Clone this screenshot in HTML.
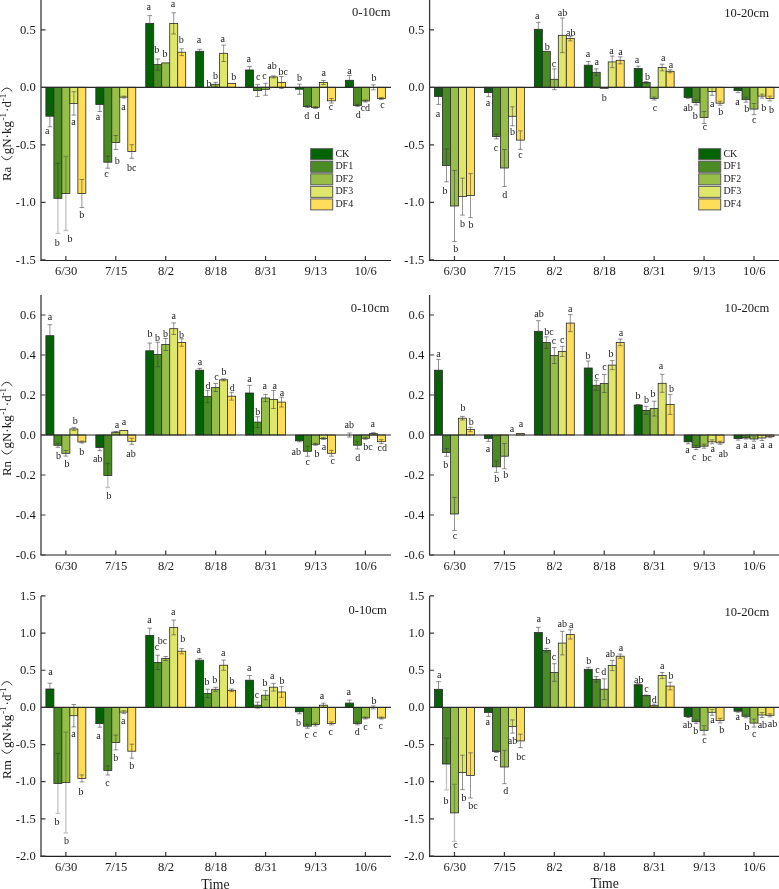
<!DOCTYPE html><html><head><meta charset="utf-8"><style>html,body{margin:0;padding:0;background:#fff;overflow:hidden;}svg{display:block;will-change:transform;}</style></head><body>
<svg width="779" height="889" viewBox="0 0 779 889" font-family='"Liberation Serif", serif'>
<rect width="779" height="889" fill="#fff"/>
<g stroke="#2a2a2a" stroke-width="0.8">
<rect x="45.9" y="87.3" width="7.99" height="28.9" fill="#026302"/>
<rect x="53.89" y="87.3" width="7.99" height="111" fill="#4a8b24"/>
<rect x="61.88" y="87.3" width="7.99" height="106.2" fill="#97bf48"/>
<rect x="69.88" y="87.3" width="7.99" height="16.1" fill="#dfe76b"/>
<rect x="77.86" y="87.3" width="7.99" height="106.2" fill="#fede58"/>
<rect x="95.82" y="87.3" width="7.99" height="17.1" fill="#026302"/>
<rect x="103.81" y="87.3" width="7.99" height="74.9" fill="#4a8b24"/>
<rect x="111.8" y="87.3" width="7.99" height="55.2" fill="#97bf48"/>
<rect x="119.79" y="87.3" width="7.99" height="9.8" fill="#dfe76b"/>
<rect x="127.78" y="87.3" width="7.99" height="64.2" fill="#fede58"/>
<rect x="145.75" y="23.5" width="7.99" height="63.8" fill="#026302"/>
<rect x="153.74" y="64.6" width="7.99" height="22.7" fill="#4a8b24"/>
<rect x="161.72" y="62.9" width="7.99" height="24.4" fill="#97bf48"/>
<rect x="169.72" y="23.4" width="7.99" height="63.9" fill="#dfe76b"/>
<rect x="177.71" y="52.2" width="7.99" height="35.1" fill="#fede58"/>
<rect x="195.66" y="51.3" width="7.99" height="36" fill="#026302"/>
<rect x="211.64" y="84.3" width="7.99" height="3" fill="#97bf48"/>
<rect x="219.63" y="53.3" width="7.99" height="34" fill="#dfe76b"/>
<rect x="227.62" y="83.4" width="7.99" height="3.9" fill="#fede58"/>
<rect x="245.59" y="70" width="7.99" height="17.3" fill="#026302"/>
<rect x="253.58" y="87.3" width="7.99" height="3.3" fill="#4a8b24"/>
<rect x="261.56" y="87.3" width="7.99" height="2" fill="#97bf48"/>
<rect x="269.56" y="76.9" width="7.99" height="10.4" fill="#dfe76b"/>
<rect x="277.55" y="82.5" width="7.99" height="4.8" fill="#fede58"/>
<rect x="295.5" y="87.3" width="7.99" height="1.9" fill="#026302"/>
<rect x="303.5" y="87.3" width="7.99" height="19.2" fill="#4a8b24"/>
<rect x="311.49" y="87.3" width="7.99" height="20.2" fill="#97bf48"/>
<rect x="319.48" y="82.5" width="7.99" height="4.8" fill="#dfe76b"/>
<rect x="327.46" y="87.3" width="7.99" height="13.5" fill="#fede58"/>
<rect x="345.42" y="80.3" width="7.99" height="7" fill="#026302"/>
<rect x="353.41" y="87.3" width="7.99" height="18.1" fill="#4a8b24"/>
<rect x="361.4" y="87.3" width="7.99" height="13.7" fill="#97bf48"/>
<rect x="377.38" y="87.3" width="7.99" height="11.2" fill="#fede58"/>
</g>
<path d="M49.9 105.6V126.8M47.6 105.6H52.2M47.6 126.8H52.2" stroke="rgba(60,60,60,0.62)" stroke-width="0.9" fill="none"/>
<path d="M57.89 163.3V233.3M55.59 163.3H60.19M55.59 233.3H60.19" stroke="rgba(0,0,0,0.24)" stroke-width="1.3" fill="none"/>
<path d="M65.88 156.5V230.5M63.58 156.5H68.18M63.58 230.5H68.18" stroke="rgba(0,0,0,0.24)" stroke-width="1.3" fill="none"/>
<path d="M73.87 91.7V115.1M71.57 91.7H76.17M71.57 115.1H76.17" stroke="rgba(60,60,60,0.62)" stroke-width="0.9" fill="none"/>
<path d="M81.86 179.5V207.5M79.56 179.5H84.16M79.56 207.5H84.16" stroke="rgba(60,60,60,0.62)" stroke-width="0.9" fill="none"/>
<path d="M99.82 97.3V111.5M97.52 97.3H102.12M97.52 111.5H102.12" stroke="rgba(60,60,60,0.62)" stroke-width="0.9" fill="none"/>
<path d="M107.81 156.2V168.2M105.51 156.2H110.11M105.51 168.2H110.11" stroke="rgba(60,60,60,0.62)" stroke-width="0.9" fill="none"/>
<path d="M115.8 135.5V149.5M113.5 135.5H118.1M113.5 149.5H118.1" stroke="rgba(60,60,60,0.62)" stroke-width="0.9" fill="none"/>
<path d="M123.79 96.1V98.1M121.49 96.1H126.09M121.49 98.1H126.09" stroke="rgba(60,60,60,0.62)" stroke-width="0.9" fill="none"/>
<path d="M131.78 144.7V158.3M129.48 144.7H134.08M129.48 158.3H134.08" stroke="rgba(60,60,60,0.62)" stroke-width="0.9" fill="none"/>
<path d="M149.74 15.6V31.4M147.44 15.6H152.04M147.44 31.4H152.04" stroke="rgba(60,60,60,0.62)" stroke-width="0.9" fill="none"/>
<path d="M157.73 59V70.2M155.43 59H160.03M155.43 70.2H160.03" stroke="rgba(60,60,60,0.62)" stroke-width="0.9" fill="none"/>
<path d="M173.71 12.8V34M171.41 12.8H176.01M171.41 34H176.01" stroke="rgba(60,60,60,0.62)" stroke-width="0.9" fill="none"/>
<path d="M181.7 48.8V55.6M179.4 48.8H184M179.4 55.6H184" stroke="rgba(60,60,60,0.62)" stroke-width="0.9" fill="none"/>
<path d="M199.66 49.3V53.3M197.36 49.3H201.96M197.36 53.3H201.96" stroke="rgba(60,60,60,0.62)" stroke-width="0.9" fill="none"/>
<path d="M215.64 82.3V86.3M213.34 82.3H217.94M213.34 86.3H217.94" stroke="rgba(60,60,60,0.62)" stroke-width="0.9" fill="none"/>
<path d="M223.63 45.1V61.5M221.33 45.1H225.93M221.33 61.5H225.93" stroke="rgba(60,60,60,0.62)" stroke-width="0.9" fill="none"/>
<path d="M249.58 66.6V73.4M247.28 66.6H251.88M247.28 73.4H251.88" stroke="rgba(60,60,60,0.62)" stroke-width="0.9" fill="none"/>
<path d="M257.57 84.6V96.6M255.27 84.6H259.87M255.27 96.6H259.87" stroke="rgba(60,60,60,0.62)" stroke-width="0.9" fill="none"/>
<path d="M265.56 83.3V95.3M263.26 83.3H267.86M263.26 95.3H267.86" stroke="rgba(60,60,60,0.62)" stroke-width="0.9" fill="none"/>
<path d="M273.55 75.9V77.9M271.25 75.9H275.85M271.25 77.9H275.85" stroke="rgba(60,60,60,0.62)" stroke-width="0.9" fill="none"/>
<path d="M281.54 76.5V88.5M279.24 76.5H283.84M279.24 88.5H283.84" stroke="rgba(60,60,60,0.62)" stroke-width="0.9" fill="none"/>
<path d="M299.5 84.2V94.2M297.2 84.2H301.8M297.2 94.2H301.8" stroke="rgba(60,60,60,0.62)" stroke-width="0.9" fill="none"/>
<path d="M307.49 105.5V107.5M305.19 105.5H309.79M305.19 107.5H309.79" stroke="rgba(60,60,60,0.62)" stroke-width="0.9" fill="none"/>
<path d="M315.48 106.5V108.5M313.18 106.5H317.78M313.18 108.5H317.78" stroke="rgba(60,60,60,0.62)" stroke-width="0.9" fill="none"/>
<path d="M323.47 80.5V84.5M321.17 80.5H325.77M321.17 84.5H325.77" stroke="rgba(60,60,60,0.62)" stroke-width="0.9" fill="none"/>
<path d="M331.46 98.5V103.1M329.16 98.5H333.76M329.16 103.1H333.76" stroke="rgba(60,60,60,0.62)" stroke-width="0.9" fill="none"/>
<path d="M349.42 75.5V85.1M347.12 75.5H351.72M347.12 85.1H351.72" stroke="rgba(60,60,60,0.62)" stroke-width="0.9" fill="none"/>
<path d="M357.41 104.4V106.4M355.11 104.4H359.71M355.11 106.4H359.71" stroke="rgba(60,60,60,0.62)" stroke-width="0.9" fill="none"/>
<path d="M365.4 100V102M363.1 100H367.7M363.1 102H367.7" stroke="rgba(60,60,60,0.62)" stroke-width="0.9" fill="none"/>
<path d="M373.39 84.8V89.8M371.09 84.8H375.69M371.09 89.8H375.69" stroke="rgba(60,60,60,0.62)" stroke-width="0.9" fill="none"/>
<path d="M381.38 97.5V99.5M379.08 97.5H383.68M379.08 99.5H383.68" stroke="rgba(60,60,60,0.62)" stroke-width="0.9" fill="none"/>
<path d="M41 87.3H391" stroke="#2a2a2a" stroke-width="1.2"/>
<path d="M41 0V260.5" stroke="#3a3a3a" stroke-width="1.3" fill="none"/>
<path d="M40.35 260.5H391" stroke="#222" stroke-width="1.1" fill="none"/>
<text x="35.7" y="33.5" font-size="12.6" text-anchor="end" fill="#1a1a1a">0.5</text>
<text x="35.7" y="91" font-size="12.6" text-anchor="end" fill="#1a1a1a">0.0</text>
<text x="35.7" y="148.5" font-size="12.6" text-anchor="end" fill="#1a1a1a">-0.5</text>
<text x="35.7" y="206" font-size="12.6" text-anchor="end" fill="#1a1a1a">-1.0</text>
<text x="35.7" y="263.5" font-size="12.6" text-anchor="end" fill="#1a1a1a">-1.5</text>
<text x="66.18" y="275.2" font-size="12.6" text-anchor="middle" fill="#1a1a1a">6/30</text>
<text x="116.1" y="275.2" font-size="12.6" text-anchor="middle" fill="#1a1a1a">7/15</text>
<text x="166.02" y="275.2" font-size="12.6" text-anchor="middle" fill="#1a1a1a">8/2</text>
<text x="215.94" y="275.2" font-size="12.6" text-anchor="middle" fill="#1a1a1a">8/18</text>
<text x="265.86" y="275.2" font-size="12.6" text-anchor="middle" fill="#1a1a1a">8/31</text>
<text x="315.78" y="275.2" font-size="12.6" text-anchor="middle" fill="#1a1a1a">9/13</text>
<text x="365.7" y="275.2" font-size="12.6" text-anchor="middle" fill="#1a1a1a">10/6</text>
<path d="M41 29.8h4.5M41 87.3h4.5M41 144.8h4.5M41 202.3h4.5M41 259.8h4.5M65.88 260.5v-4.5M115.8 260.5v-4.5M165.72 260.5v-4.5M215.64 260.5v-4.5M265.56 260.5v-4.5M315.48 260.5v-4.5M365.4 260.5v-4.5" stroke="#3a3a3a" stroke-width="1.2" fill="none"/>
<text x="47.3" y="134.3" font-size="10" text-anchor="middle" fill="#1a1a1a">a</text>
<text x="57.2" y="245.8" font-size="10" text-anchor="middle" fill="#1a1a1a">b</text>
<text x="69.9" y="241.7" font-size="10" text-anchor="middle" fill="#1a1a1a">b</text>
<text x="73.6" y="124.7" font-size="10" text-anchor="middle" fill="#1a1a1a">a</text>
<text x="81.7" y="218.4" font-size="10" text-anchor="middle" fill="#1a1a1a">b</text>
<text x="98" y="120.2" font-size="10" text-anchor="middle" fill="#1a1a1a">a</text>
<text x="106.5" y="176.7" font-size="10" text-anchor="middle" fill="#1a1a1a">c</text>
<text x="117.3" y="163.6" font-size="10" text-anchor="middle" fill="#1a1a1a">b</text>
<text x="123.4" y="109.5" font-size="10" text-anchor="middle" fill="#1a1a1a">a</text>
<text x="131.8" y="170.7" font-size="10" text-anchor="middle" fill="#1a1a1a">bc</text>
<text x="148.7" y="9.7" font-size="10" text-anchor="middle" fill="#1a1a1a">a</text>
<text x="156.7" y="53.4" font-size="10" text-anchor="middle" fill="#1a1a1a">b</text>
<text x="165" y="57.3" font-size="10" text-anchor="middle" fill="#1a1a1a">b</text>
<text x="173.1" y="7.4" font-size="10" text-anchor="middle" fill="#1a1a1a">a</text>
<text x="181.3" y="43.2" font-size="10" text-anchor="middle" fill="#1a1a1a">b</text>
<text x="199" y="43.4" font-size="10" text-anchor="middle" fill="#1a1a1a">a</text>
<text x="209" y="86.8" font-size="10" text-anchor="middle" fill="#1a1a1a">b</text>
<text x="215.5" y="79.1" font-size="10" text-anchor="middle" fill="#1a1a1a">b</text>
<text x="222.8" y="42.1" font-size="10" text-anchor="middle" fill="#1a1a1a">a</text>
<text x="233.7" y="80.2" font-size="10" text-anchor="middle" fill="#1a1a1a">b</text>
<text x="248.7" y="62.1" font-size="10" text-anchor="middle" fill="#1a1a1a">a</text>
<text x="258.3" y="79.8" font-size="10" text-anchor="middle" fill="#1a1a1a">c</text>
<text x="264.6" y="79.2" font-size="10" text-anchor="middle" fill="#1a1a1a">c</text>
<text x="272" y="68.6" font-size="10" text-anchor="middle" fill="#1a1a1a">ab</text>
<text x="283.3" y="75" font-size="10" text-anchor="middle" fill="#1a1a1a">bc</text>
<text x="299.5" y="81.3" font-size="10" text-anchor="middle" fill="#1a1a1a">b</text>
<text x="306.7" y="119.1" font-size="10" text-anchor="middle" fill="#1a1a1a">d</text>
<text x="317" y="119.1" font-size="10" text-anchor="middle" fill="#1a1a1a">d</text>
<text x="323.7" y="76.1" font-size="10" text-anchor="middle" fill="#1a1a1a">a</text>
<text x="331" y="110.1" font-size="10" text-anchor="middle" fill="#1a1a1a">c</text>
<text x="349.5" y="73.9" font-size="10" text-anchor="middle" fill="#1a1a1a">a</text>
<text x="358.3" y="118.3" font-size="10" text-anchor="middle" fill="#1a1a1a">d</text>
<text x="365.4" y="110.9" font-size="10" text-anchor="middle" fill="#1a1a1a">cd</text>
<text x="373.9" y="80.6" font-size="10" text-anchor="middle" fill="#1a1a1a">b</text>
<text x="382.4" y="108.3" font-size="10" text-anchor="middle" fill="#1a1a1a">c</text>
<g stroke="#2a2a2a" stroke-width="0.8">
<rect x="434.5" y="87.3" width="7.99" height="9.1" fill="#026302"/>
<rect x="442.5" y="87.3" width="7.99" height="78.1" fill="#4a8b24"/>
<rect x="450.49" y="87.3" width="7.99" height="118.7" fill="#97bf48"/>
<rect x="458.48" y="87.3" width="7.99" height="109.3" fill="#dfe76b"/>
<rect x="466.46" y="87.3" width="7.99" height="108.3" fill="#fede58"/>
<rect x="484.43" y="87.3" width="7.99" height="5.3" fill="#026302"/>
<rect x="492.42" y="87.3" width="7.99" height="49.2" fill="#4a8b24"/>
<rect x="500.41" y="87.3" width="7.99" height="80.7" fill="#97bf48"/>
<rect x="508.39" y="87.3" width="7.99" height="29" fill="#dfe76b"/>
<rect x="516.38" y="87.3" width="7.99" height="52.8" fill="#fede58"/>
<rect x="534.35" y="29.3" width="7.99" height="58" fill="#026302"/>
<rect x="542.34" y="51.3" width="7.99" height="36" fill="#4a8b24"/>
<rect x="550.33" y="79.3" width="7.99" height="8" fill="#97bf48"/>
<rect x="558.32" y="35.3" width="7.99" height="52" fill="#dfe76b"/>
<rect x="566.31" y="38.5" width="7.99" height="48.8" fill="#fede58"/>
<rect x="584.26" y="65.2" width="7.99" height="22.1" fill="#026302"/>
<rect x="592.25" y="72.3" width="7.99" height="15" fill="#4a8b24"/>
<rect x="600.25" y="87.3" width="7.99" height="1" fill="#97bf48"/>
<rect x="608.24" y="61.9" width="7.99" height="25.4" fill="#dfe76b"/>
<rect x="616.23" y="60.3" width="7.99" height="27" fill="#fede58"/>
<rect x="634.19" y="68.5" width="7.99" height="18.8" fill="#026302"/>
<rect x="642.18" y="82.5" width="7.99" height="4.8" fill="#4a8b24"/>
<rect x="650.17" y="87.3" width="7.99" height="11.2" fill="#97bf48"/>
<rect x="658.16" y="67.5" width="7.99" height="19.8" fill="#dfe76b"/>
<rect x="666.15" y="71.3" width="7.99" height="16" fill="#fede58"/>
<rect x="684.11" y="87.3" width="7.99" height="10.1" fill="#026302"/>
<rect x="692.1" y="87.3" width="7.99" height="15.1" fill="#4a8b24"/>
<rect x="700.09" y="87.3" width="7.99" height="30.2" fill="#97bf48"/>
<rect x="708.08" y="87.3" width="7.99" height="4.2" fill="#dfe76b"/>
<rect x="716.07" y="87.3" width="7.99" height="15.9" fill="#fede58"/>
<rect x="734.02" y="87.3" width="7.99" height="3.3" fill="#026302"/>
<rect x="742.01" y="87.3" width="7.99" height="12.4" fill="#4a8b24"/>
<rect x="750" y="87.3" width="7.99" height="21.8" fill="#97bf48"/>
<rect x="758" y="87.3" width="7.99" height="8.8" fill="#dfe76b"/>
<rect x="765.99" y="87.3" width="7.99" height="11.2" fill="#fede58"/>
</g>
<path d="M438.5 88.4V104.4M436.2 88.4H440.8M436.2 104.4H440.8" stroke="rgba(60,60,60,0.62)" stroke-width="0.9" fill="none"/>
<path d="M446.49 149V181.8M444.19 149H448.79M444.19 181.8H448.79" stroke="rgba(60,60,60,0.62)" stroke-width="0.9" fill="none"/>
<path d="M454.48 170.4V241.6M452.18 170.4H456.78M452.18 241.6H456.78" stroke="rgba(60,60,60,0.62)" stroke-width="0.9" fill="none"/>
<path d="M462.47 178.1V215.1M460.17 178.1H464.77M460.17 215.1H464.77" stroke="rgba(60,60,60,0.62)" stroke-width="0.9" fill="none"/>
<path d="M470.46 173.6V217.6M468.16 173.6H472.76M468.16 217.6H472.76" stroke="rgba(60,60,60,0.62)" stroke-width="0.9" fill="none"/>
<path d="M488.42 88.6V96.6M486.12 88.6H490.72M486.12 96.6H490.72" stroke="rgba(60,60,60,0.62)" stroke-width="0.9" fill="none"/>
<path d="M496.41 134.1V138.9M494.11 134.1H498.71M494.11 138.9H498.71" stroke="rgba(60,60,60,0.62)" stroke-width="0.9" fill="none"/>
<path d="M504.4 149.5V186.5M502.1 149.5H506.7M502.1 186.5H506.7" stroke="rgba(60,60,60,0.62)" stroke-width="0.9" fill="none"/>
<path d="M512.39 106.8V125.8M510.09 106.8H514.69M510.09 125.8H514.69" stroke="rgba(60,60,60,0.62)" stroke-width="0.9" fill="none"/>
<path d="M520.38 130.9V149.3M518.08 130.9H522.68M518.08 149.3H522.68" stroke="rgba(60,60,60,0.62)" stroke-width="0.9" fill="none"/>
<path d="M538.34 22.3V36.3M536.04 22.3H540.64M536.04 36.3H540.64" stroke="rgba(60,60,60,0.62)" stroke-width="0.9" fill="none"/>
<path d="M554.32 68.9V89.7M552.02 68.9H556.62M552.02 89.7H556.62" stroke="rgba(60,60,60,0.62)" stroke-width="0.9" fill="none"/>
<path d="M562.31 18V52.6M560.01 18H564.61M560.01 52.6H564.61" stroke="rgba(60,60,60,0.62)" stroke-width="0.9" fill="none"/>
<path d="M570.3 36.1V40.9M568 36.1H572.6M568 40.9H572.6" stroke="rgba(60,60,60,0.62)" stroke-width="0.9" fill="none"/>
<path d="M588.26 61.5V68.9M585.96 61.5H590.56M585.96 68.9H590.56" stroke="rgba(60,60,60,0.62)" stroke-width="0.9" fill="none"/>
<path d="M596.25 68.8V75.8M593.95 68.8H598.55M593.95 75.8H598.55" stroke="rgba(60,60,60,0.62)" stroke-width="0.9" fill="none"/>
<path d="M612.23 56.1V67.7M609.93 56.1H614.53M609.93 67.7H614.53" stroke="rgba(60,60,60,0.62)" stroke-width="0.9" fill="none"/>
<path d="M620.22 56.8V63.8M617.92 56.8H622.52M617.92 63.8H622.52" stroke="rgba(60,60,60,0.62)" stroke-width="0.9" fill="none"/>
<path d="M638.18 66.2V70.8M635.88 66.2H640.48M635.88 70.8H640.48" stroke="rgba(60,60,60,0.62)" stroke-width="0.9" fill="none"/>
<path d="M646.17 81.5V83.5M643.87 81.5H648.47M643.87 83.5H648.47" stroke="rgba(60,60,60,0.62)" stroke-width="0.9" fill="none"/>
<path d="M654.16 97V100M651.86 97H656.46M651.86 100H656.46" stroke="rgba(60,60,60,0.62)" stroke-width="0.9" fill="none"/>
<path d="M662.15 64.2V70.8M659.85 64.2H664.45M659.85 70.8H664.45" stroke="rgba(60,60,60,0.62)" stroke-width="0.9" fill="none"/>
<path d="M670.14 69.8V72.8M667.84 69.8H672.44M667.84 72.8H672.44" stroke="rgba(60,60,60,0.62)" stroke-width="0.9" fill="none"/>
<path d="M688.1 96.4V98.4M685.8 96.4H690.4M685.8 98.4H690.4" stroke="rgba(60,60,60,0.62)" stroke-width="0.9" fill="none"/>
<path d="M696.09 99.9V104.9M693.79 99.9H698.39M693.79 104.9H698.39" stroke="rgba(60,60,60,0.62)" stroke-width="0.9" fill="none"/>
<path d="M704.08 111.5V123.5M701.78 111.5H706.38M701.78 123.5H706.38" stroke="rgba(60,60,60,0.62)" stroke-width="0.9" fill="none"/>
<path d="M712.07 87.7V95.3M709.77 87.7H714.37M709.77 95.3H714.37" stroke="rgba(60,60,60,0.62)" stroke-width="0.9" fill="none"/>
<path d="M720.06 101.2V105.2M717.76 101.2H722.36M717.76 105.2H722.36" stroke="rgba(60,60,60,0.62)" stroke-width="0.9" fill="none"/>
<path d="M738.02 88.6V92.6M735.72 88.6H740.32M735.72 92.6H740.32" stroke="rgba(60,60,60,0.62)" stroke-width="0.9" fill="none"/>
<path d="M746.01 97.2V102.2M743.71 97.2H748.31M743.71 102.2H748.31" stroke="rgba(60,60,60,0.62)" stroke-width="0.9" fill="none"/>
<path d="M754 103.5V114.7M751.7 103.5H756.3M751.7 114.7H756.3" stroke="rgba(60,60,60,0.62)" stroke-width="0.9" fill="none"/>
<path d="M761.99 94.1V98.1M759.69 94.1H764.29M759.69 98.1H764.29" stroke="rgba(60,60,60,0.62)" stroke-width="0.9" fill="none"/>
<path d="M769.98 96.1V100.9M767.68 96.1H772.28M767.68 100.9H772.28" stroke="rgba(60,60,60,0.62)" stroke-width="0.9" fill="none"/>
<path d="M429.6 87.3H779.6" stroke="#2a2a2a" stroke-width="1.2"/>
<path d="M429.6 0V260.5" stroke="#3a3a3a" stroke-width="1.3" fill="none"/>
<path d="M428.95 260.5H779.6" stroke="#222" stroke-width="1.1" fill="none"/>
<text x="424.3" y="33.5" font-size="12.6" text-anchor="end" fill="#1a1a1a">0.5</text>
<text x="424.3" y="91" font-size="12.6" text-anchor="end" fill="#1a1a1a">0.0</text>
<text x="424.3" y="148.5" font-size="12.6" text-anchor="end" fill="#1a1a1a">-0.5</text>
<text x="424.3" y="206" font-size="12.6" text-anchor="end" fill="#1a1a1a">-1.0</text>
<text x="424.3" y="263.5" font-size="12.6" text-anchor="end" fill="#1a1a1a">-1.5</text>
<text x="454.78" y="275.2" font-size="12.6" text-anchor="middle" fill="#1a1a1a">6/30</text>
<text x="504.7" y="275.2" font-size="12.6" text-anchor="middle" fill="#1a1a1a">7/15</text>
<text x="554.62" y="275.2" font-size="12.6" text-anchor="middle" fill="#1a1a1a">8/2</text>
<text x="604.54" y="275.2" font-size="12.6" text-anchor="middle" fill="#1a1a1a">8/18</text>
<text x="654.46" y="275.2" font-size="12.6" text-anchor="middle" fill="#1a1a1a">8/31</text>
<text x="704.38" y="275.2" font-size="12.6" text-anchor="middle" fill="#1a1a1a">9/13</text>
<text x="754.3" y="275.2" font-size="12.6" text-anchor="middle" fill="#1a1a1a">10/6</text>
<path d="M429.6 29.8h4.5M429.6 87.3h4.5M429.6 144.8h4.5M429.6 202.3h4.5M429.6 259.8h4.5M454.48 260.5v-4.5M504.4 260.5v-4.5M554.32 260.5v-4.5M604.24 260.5v-4.5M654.16 260.5v-4.5M704.08 260.5v-4.5M754 260.5v-4.5" stroke="#3a3a3a" stroke-width="1.2" fill="none"/>
<text x="438" y="117.2" font-size="10" text-anchor="middle" fill="#1a1a1a">a</text>
<text x="445.1" y="194.2" font-size="10" text-anchor="middle" fill="#1a1a1a">b</text>
<text x="455.7" y="251.7" font-size="10" text-anchor="middle" fill="#1a1a1a">b</text>
<text x="462.5" y="226.9" font-size="10" text-anchor="middle" fill="#1a1a1a">b</text>
<text x="471.1" y="228.2" font-size="10" text-anchor="middle" fill="#1a1a1a">b</text>
<text x="488" y="106.4" font-size="10" text-anchor="middle" fill="#1a1a1a">a</text>
<text x="496.1" y="150.6" font-size="10" text-anchor="middle" fill="#1a1a1a">c</text>
<text x="504.7" y="197.8" font-size="10" text-anchor="middle" fill="#1a1a1a">d</text>
<text x="512.5" y="135.4" font-size="10" text-anchor="middle" fill="#1a1a1a">b</text>
<text x="520.5" y="158.3" font-size="10" text-anchor="middle" fill="#1a1a1a">c</text>
<text x="537.3" y="18.7" font-size="10" text-anchor="middle" fill="#1a1a1a">a</text>
<text x="547.3" y="49.6" font-size="10" text-anchor="middle" fill="#1a1a1a">b</text>
<text x="554.1" y="66.5" font-size="10" text-anchor="middle" fill="#1a1a1a">c</text>
<text x="562.5" y="16.2" font-size="10" text-anchor="middle" fill="#1a1a1a">ab</text>
<text x="570.8" y="35.5" font-size="10" text-anchor="middle" fill="#1a1a1a">ab</text>
<text x="588" y="56.9" font-size="10" text-anchor="middle" fill="#1a1a1a">a</text>
<text x="596.8" y="65.2" font-size="10" text-anchor="middle" fill="#1a1a1a">a</text>
<text x="604.2" y="101" font-size="10" text-anchor="middle" fill="#1a1a1a">b</text>
<text x="611.5" y="53.6" font-size="10" text-anchor="middle" fill="#1a1a1a">a</text>
<text x="620.5" y="54.7" font-size="10" text-anchor="middle" fill="#1a1a1a">a</text>
<text x="637" y="62.6" font-size="10" text-anchor="middle" fill="#1a1a1a">a</text>
<text x="647.5" y="80.3" font-size="10" text-anchor="middle" fill="#1a1a1a">b</text>
<text x="655" y="111.3" font-size="10" text-anchor="middle" fill="#1a1a1a">c</text>
<text x="663.2" y="60.7" font-size="10" text-anchor="middle" fill="#1a1a1a">a</text>
<text x="670.9" y="67.7" font-size="10" text-anchor="middle" fill="#1a1a1a">a</text>
<text x="688" y="110.9" font-size="10" text-anchor="middle" fill="#1a1a1a">ab</text>
<text x="695.3" y="119.1" font-size="10" text-anchor="middle" fill="#1a1a1a">b</text>
<text x="705" y="130.3" font-size="10" text-anchor="middle" fill="#1a1a1a">c</text>
<text x="712.2" y="106.6" font-size="10" text-anchor="middle" fill="#1a1a1a">a</text>
<text x="720.8" y="115.3" font-size="10" text-anchor="middle" fill="#1a1a1a">b</text>
<text x="737.5" y="104.5" font-size="10" text-anchor="middle" fill="#1a1a1a">a</text>
<text x="746.7" y="112.2" font-size="10" text-anchor="middle" fill="#1a1a1a">b</text>
<text x="754.3" y="122.8" font-size="10" text-anchor="middle" fill="#1a1a1a">c</text>
<text x="763.7" y="110.7" font-size="10" text-anchor="middle" fill="#1a1a1a">b</text>
<text x="771.5" y="113.2" font-size="10" text-anchor="middle" fill="#1a1a1a">b</text>
<g stroke="#2a2a2a" stroke-width="0.8">
<rect x="45.9" y="335.7" width="7.99" height="99.3" fill="#026302"/>
<rect x="53.89" y="435" width="7.99" height="10.3" fill="#4a8b24"/>
<rect x="61.88" y="435" width="7.99" height="18.3" fill="#97bf48"/>
<rect x="69.88" y="428.9" width="7.99" height="6.1" fill="#dfe76b"/>
<rect x="77.86" y="435" width="7.99" height="7" fill="#fede58"/>
<rect x="95.82" y="435" width="7.99" height="12.5" fill="#026302"/>
<rect x="103.81" y="435" width="7.99" height="40.5" fill="#4a8b24"/>
<rect x="111.8" y="432.1" width="7.99" height="2.9" fill="#97bf48"/>
<rect x="119.79" y="430.4" width="7.99" height="4.6" fill="#dfe76b"/>
<rect x="127.78" y="435" width="7.99" height="6.3" fill="#fede58"/>
<rect x="145.75" y="350.8" width="7.99" height="84.2" fill="#026302"/>
<rect x="153.74" y="354.5" width="7.99" height="80.5" fill="#4a8b24"/>
<rect x="161.72" y="344.5" width="7.99" height="90.5" fill="#97bf48"/>
<rect x="169.72" y="328.7" width="7.99" height="106.3" fill="#dfe76b"/>
<rect x="177.71" y="342.5" width="7.99" height="92.5" fill="#fede58"/>
<rect x="195.66" y="370.2" width="7.99" height="64.8" fill="#026302"/>
<rect x="203.66" y="396.5" width="7.99" height="38.5" fill="#4a8b24"/>
<rect x="211.64" y="387.5" width="7.99" height="47.5" fill="#97bf48"/>
<rect x="219.63" y="379.8" width="7.99" height="55.2" fill="#dfe76b"/>
<rect x="227.62" y="396.2" width="7.99" height="38.8" fill="#fede58"/>
<rect x="245.59" y="393" width="7.99" height="42" fill="#026302"/>
<rect x="253.58" y="422.1" width="7.99" height="12.9" fill="#4a8b24"/>
<rect x="261.56" y="398" width="7.99" height="37" fill="#97bf48"/>
<rect x="269.56" y="399.5" width="7.99" height="35.5" fill="#dfe76b"/>
<rect x="277.55" y="402.1" width="7.99" height="32.9" fill="#fede58"/>
<rect x="295.5" y="435" width="7.99" height="5.8" fill="#026302"/>
<rect x="303.5" y="435" width="7.99" height="16.3" fill="#4a8b24"/>
<rect x="311.49" y="435" width="7.99" height="9.3" fill="#97bf48"/>
<rect x="319.48" y="435" width="7.99" height="3.5" fill="#dfe76b"/>
<rect x="327.46" y="435" width="7.99" height="18.3" fill="#fede58"/>
<rect x="353.41" y="435" width="7.99" height="10.2" fill="#4a8b24"/>
<rect x="361.4" y="435" width="7.99" height="3.3" fill="#97bf48"/>
<rect x="369.39" y="433.6" width="7.99" height="1.4" fill="#dfe76b"/>
<rect x="377.38" y="435" width="7.99" height="6.7" fill="#fede58"/>
</g>
<path d="M49.9 324.7V346.7M47.6 324.7H52.2M47.6 346.7H52.2" stroke="rgba(60,60,60,0.62)" stroke-width="0.9" fill="none"/>
<path d="M57.89 443.3V447.3M55.59 443.3H60.19M55.59 447.3H60.19" stroke="rgba(60,60,60,0.62)" stroke-width="0.9" fill="none"/>
<path d="M65.88 450.5V456.1M63.58 450.5H68.18M63.58 456.1H68.18" stroke="rgba(60,60,60,0.62)" stroke-width="0.9" fill="none"/>
<path d="M73.87 427.4V430.4M71.57 427.4H76.17M71.57 430.4H76.17" stroke="rgba(60,60,60,0.62)" stroke-width="0.9" fill="none"/>
<path d="M81.86 441V443M79.56 441H84.16M79.56 443H84.16" stroke="rgba(60,60,60,0.62)" stroke-width="0.9" fill="none"/>
<path d="M99.82 444.3V450.7M97.52 444.3H102.12M97.52 450.7H102.12" stroke="rgba(60,60,60,0.62)" stroke-width="0.9" fill="none"/>
<path d="M107.81 463.5V487.5M105.51 463.5H110.11M105.51 487.5H110.11" stroke="rgba(0,0,0,0.24)" stroke-width="1.3" fill="none"/>
<path d="M115.8 431.6V432.6M113.5 431.6H118.1M113.5 432.6H118.1" stroke="rgba(60,60,60,0.62)" stroke-width="0.9" fill="none"/>
<path d="M131.78 438.3V444.3M129.48 438.3H134.08M129.48 444.3H134.08" stroke="rgba(60,60,60,0.62)" stroke-width="0.9" fill="none"/>
<path d="M149.74 343.1V358.5M147.44 343.1H152.04M147.44 358.5H152.04" stroke="rgba(60,60,60,0.62)" stroke-width="0.9" fill="none"/>
<path d="M157.73 342.2V366.8M155.43 342.2H160.03M155.43 366.8H160.03" stroke="rgba(60,60,60,0.62)" stroke-width="0.9" fill="none"/>
<path d="M165.72 338.5V350.5M163.42 338.5H168.02M163.42 350.5H168.02" stroke="rgba(60,60,60,0.62)" stroke-width="0.9" fill="none"/>
<path d="M173.71 322.9V334.5M171.41 322.9H176.01M171.41 334.5H176.01" stroke="rgba(60,60,60,0.62)" stroke-width="0.9" fill="none"/>
<path d="M181.7 338.8V346.2M179.4 338.8H184M179.4 346.2H184" stroke="rgba(60,60,60,0.62)" stroke-width="0.9" fill="none"/>
<path d="M199.66 368.4V372M197.36 368.4H201.96M197.36 372H201.96" stroke="rgba(60,60,60,0.62)" stroke-width="0.9" fill="none"/>
<path d="M207.65 390.3V402.7M205.35 390.3H209.95M205.35 402.7H209.95" stroke="rgba(60,60,60,0.62)" stroke-width="0.9" fill="none"/>
<path d="M215.64 383.5V391.5M213.34 383.5H217.94M213.34 391.5H217.94" stroke="rgba(60,60,60,0.62)" stroke-width="0.9" fill="none"/>
<path d="M223.63 378.8V380.8M221.33 378.8H225.93M221.33 380.8H225.93" stroke="rgba(60,60,60,0.62)" stroke-width="0.9" fill="none"/>
<path d="M231.62 392.3V400.1M229.32 392.3H233.92M229.32 400.1H233.92" stroke="rgba(60,60,60,0.62)" stroke-width="0.9" fill="none"/>
<path d="M249.58 385.4V400.6M247.28 385.4H251.88M247.28 400.6H251.88" stroke="rgba(60,60,60,0.62)" stroke-width="0.9" fill="none"/>
<path d="M257.57 416.7V427.5M255.27 416.7H259.87M255.27 427.5H259.87" stroke="rgba(60,60,60,0.62)" stroke-width="0.9" fill="none"/>
<path d="M265.56 394.4V401.6M263.26 394.4H267.86M263.26 401.6H267.86" stroke="rgba(60,60,60,0.62)" stroke-width="0.9" fill="none"/>
<path d="M273.55 390.5V408.5M271.25 390.5H275.85M271.25 408.5H275.85" stroke="rgba(60,60,60,0.62)" stroke-width="0.9" fill="none"/>
<path d="M281.54 397.2V407M279.24 397.2H283.84M279.24 407H283.84" stroke="rgba(60,60,60,0.62)" stroke-width="0.9" fill="none"/>
<path d="M299.5 439.8V441.8M297.2 439.8H301.8M297.2 441.8H301.8" stroke="rgba(60,60,60,0.62)" stroke-width="0.9" fill="none"/>
<path d="M307.49 446.3V456.3M305.19 446.3H309.79M305.19 456.3H309.79" stroke="rgba(60,60,60,0.62)" stroke-width="0.9" fill="none"/>
<path d="M315.48 443.3V445.3M313.18 443.3H317.78M313.18 445.3H317.78" stroke="rgba(60,60,60,0.62)" stroke-width="0.9" fill="none"/>
<path d="M323.47 437.5V439.5M321.17 437.5H325.77M321.17 439.5H325.77" stroke="rgba(60,60,60,0.62)" stroke-width="0.9" fill="none"/>
<path d="M331.46 450.4V456.2M329.16 450.4H333.76M329.16 456.2H333.76" stroke="rgba(60,60,60,0.62)" stroke-width="0.9" fill="none"/>
<path d="M349.42 433V437M347.12 433H351.72M347.12 437H351.72" stroke="rgba(60,60,60,0.62)" stroke-width="0.9" fill="none"/>
<path d="M357.41 441.4V449M355.11 441.4H359.71M355.11 449H359.71" stroke="rgba(60,60,60,0.62)" stroke-width="0.9" fill="none"/>
<path d="M365.4 437.3V439.3M363.1 437.3H367.7M363.1 439.3H367.7" stroke="rgba(60,60,60,0.62)" stroke-width="0.9" fill="none"/>
<path d="M373.39 432.6V434.6M371.09 432.6H375.69M371.09 434.6H375.69" stroke="rgba(60,60,60,0.62)" stroke-width="0.9" fill="none"/>
<path d="M381.38 439.7V443.7M379.08 439.7H383.68M379.08 443.7H383.68" stroke="rgba(60,60,60,0.62)" stroke-width="0.9" fill="none"/>
<path d="M41 435H391" stroke="#2a2a2a" stroke-width="1.2"/>
<path d="M41 295V555" stroke="#3a3a3a" stroke-width="1.3" fill="none"/>
<path d="M40.35 555H391" stroke="#222" stroke-width="1.1" fill="none"/>
<text x="35.7" y="318.7" font-size="12.6" text-anchor="end" fill="#1a1a1a">0.6</text>
<text x="35.7" y="358.7" font-size="12.6" text-anchor="end" fill="#1a1a1a">0.4</text>
<text x="35.7" y="398.7" font-size="12.6" text-anchor="end" fill="#1a1a1a">0.2</text>
<text x="35.7" y="438.7" font-size="12.6" text-anchor="end" fill="#1a1a1a">0.0</text>
<text x="35.7" y="478.7" font-size="12.6" text-anchor="end" fill="#1a1a1a">-0.2</text>
<text x="35.7" y="518.7" font-size="12.6" text-anchor="end" fill="#1a1a1a">-0.4</text>
<text x="35.7" y="558.7" font-size="12.6" text-anchor="end" fill="#1a1a1a">-0.6</text>
<text x="66.18" y="569.7" font-size="12.6" text-anchor="middle" fill="#1a1a1a">6/30</text>
<text x="116.1" y="569.7" font-size="12.6" text-anchor="middle" fill="#1a1a1a">7/15</text>
<text x="166.02" y="569.7" font-size="12.6" text-anchor="middle" fill="#1a1a1a">8/2</text>
<text x="215.94" y="569.7" font-size="12.6" text-anchor="middle" fill="#1a1a1a">8/18</text>
<text x="265.86" y="569.7" font-size="12.6" text-anchor="middle" fill="#1a1a1a">8/31</text>
<text x="315.78" y="569.7" font-size="12.6" text-anchor="middle" fill="#1a1a1a">9/13</text>
<text x="365.7" y="569.7" font-size="12.6" text-anchor="middle" fill="#1a1a1a">10/6</text>
<path d="M41 315h4.5M41 355h4.5M41 395h4.5M41 435h4.5M41 475h4.5M41 515h4.5M41 555h4.5M65.88 555v-4.5M115.8 555v-4.5M165.72 555v-4.5M215.64 555v-4.5M265.56 555v-4.5M315.48 555v-4.5M365.4 555v-4.5" stroke="#3a3a3a" stroke-width="1.2" fill="none"/>
<text x="50" y="319.6" font-size="10" text-anchor="middle" fill="#1a1a1a">a</text>
<text x="58.6" y="459.2" font-size="10" text-anchor="middle" fill="#1a1a1a">b</text>
<text x="67" y="466.9" font-size="10" text-anchor="middle" fill="#1a1a1a">b</text>
<text x="75.3" y="423.9" font-size="10" text-anchor="middle" fill="#1a1a1a">b</text>
<text x="81.7" y="455.4" font-size="10" text-anchor="middle" fill="#1a1a1a">b</text>
<text x="97.8" y="462.4" font-size="10" text-anchor="middle" fill="#1a1a1a">ab</text>
<text x="109" y="499.4" font-size="10" text-anchor="middle" fill="#1a1a1a">b</text>
<text x="117" y="428" font-size="10" text-anchor="middle" fill="#1a1a1a">a</text>
<text x="124.1" y="424.8" font-size="10" text-anchor="middle" fill="#1a1a1a">a</text>
<text x="131.1" y="457.1" font-size="10" text-anchor="middle" fill="#1a1a1a">ab</text>
<text x="149.9" y="337.3" font-size="10" text-anchor="middle" fill="#1a1a1a">b</text>
<text x="157.6" y="341.2" font-size="10" text-anchor="middle" fill="#1a1a1a">b</text>
<text x="165.4" y="337.3" font-size="10" text-anchor="middle" fill="#1a1a1a">b</text>
<text x="173.7" y="319.1" font-size="10" text-anchor="middle" fill="#1a1a1a">a</text>
<text x="181.6" y="338.1" font-size="10" text-anchor="middle" fill="#1a1a1a">b</text>
<text x="200" y="365.4" font-size="10" text-anchor="middle" fill="#1a1a1a">a</text>
<text x="208" y="388.6" font-size="10" text-anchor="middle" fill="#1a1a1a">d</text>
<text x="216.4" y="380.4" font-size="10" text-anchor="middle" fill="#1a1a1a">c</text>
<text x="224.1" y="374.5" font-size="10" text-anchor="middle" fill="#1a1a1a">b</text>
<text x="232.2" y="391.2" font-size="10" text-anchor="middle" fill="#1a1a1a">d</text>
<text x="249.4" y="382.3" font-size="10" text-anchor="middle" fill="#1a1a1a">a</text>
<text x="257.7" y="415.4" font-size="10" text-anchor="middle" fill="#1a1a1a">b</text>
<text x="264.8" y="389" font-size="10" text-anchor="middle" fill="#1a1a1a">a</text>
<text x="274.7" y="388.5" font-size="10" text-anchor="middle" fill="#1a1a1a">a</text>
<text x="282.1" y="395.6" font-size="10" text-anchor="middle" fill="#1a1a1a">a</text>
<text x="296.2" y="454.7" font-size="10" text-anchor="middle" fill="#1a1a1a">ab</text>
<text x="307.7" y="465.2" font-size="10" text-anchor="middle" fill="#1a1a1a">c</text>
<text x="317" y="457.1" font-size="10" text-anchor="middle" fill="#1a1a1a">b</text>
<text x="324" y="450.4" font-size="10" text-anchor="middle" fill="#1a1a1a">a</text>
<text x="332.7" y="464.3" font-size="10" text-anchor="middle" fill="#1a1a1a">c</text>
<text x="349.3" y="428.4" font-size="10" text-anchor="middle" fill="#1a1a1a">ab</text>
<text x="357.7" y="461.2" font-size="10" text-anchor="middle" fill="#1a1a1a">d</text>
<text x="368" y="450.3" font-size="10" text-anchor="middle" fill="#1a1a1a">bc</text>
<text x="372.8" y="427.3" font-size="10" text-anchor="middle" fill="#1a1a1a">a</text>
<text x="382.2" y="451.2" font-size="10" text-anchor="middle" fill="#1a1a1a">cd</text>
<g stroke="#2a2a2a" stroke-width="0.8">
<rect x="434.5" y="370.2" width="7.99" height="64.8" fill="#026302"/>
<rect x="442.5" y="435" width="7.99" height="17.4" fill="#4a8b24"/>
<rect x="450.49" y="435" width="7.99" height="79" fill="#97bf48"/>
<rect x="458.48" y="418.2" width="7.99" height="16.8" fill="#dfe76b"/>
<rect x="466.46" y="429.5" width="7.99" height="5.5" fill="#fede58"/>
<rect x="484.43" y="435" width="7.99" height="3.5" fill="#026302"/>
<rect x="492.42" y="435" width="7.99" height="31.8" fill="#4a8b24"/>
<rect x="500.41" y="435" width="7.99" height="21.2" fill="#97bf48"/>
<rect x="516.38" y="433.6" width="7.99" height="1.4" fill="#fede58"/>
<rect x="534.35" y="331.3" width="7.99" height="103.7" fill="#026302"/>
<rect x="542.34" y="342.6" width="7.99" height="92.4" fill="#4a8b24"/>
<rect x="550.33" y="355.5" width="7.99" height="79.5" fill="#97bf48"/>
<rect x="558.32" y="351.4" width="7.99" height="83.6" fill="#dfe76b"/>
<rect x="566.31" y="323.1" width="7.99" height="111.9" fill="#fede58"/>
<rect x="584.26" y="368" width="7.99" height="67" fill="#026302"/>
<rect x="592.25" y="385.3" width="7.99" height="49.7" fill="#4a8b24"/>
<rect x="600.25" y="383.5" width="7.99" height="51.5" fill="#97bf48"/>
<rect x="608.24" y="365.1" width="7.99" height="69.9" fill="#dfe76b"/>
<rect x="616.23" y="342.4" width="7.99" height="92.6" fill="#fede58"/>
<rect x="634.19" y="405" width="7.99" height="30" fill="#026302"/>
<rect x="642.18" y="410.4" width="7.99" height="24.6" fill="#4a8b24"/>
<rect x="650.17" y="408.6" width="7.99" height="26.4" fill="#97bf48"/>
<rect x="658.16" y="383.3" width="7.99" height="51.7" fill="#dfe76b"/>
<rect x="666.15" y="404.4" width="7.99" height="30.6" fill="#fede58"/>
<rect x="684.11" y="435" width="7.99" height="6.8" fill="#026302"/>
<rect x="692.1" y="435" width="7.99" height="12.5" fill="#4a8b24"/>
<rect x="700.09" y="435" width="7.99" height="11.2" fill="#97bf48"/>
<rect x="708.08" y="435" width="7.99" height="6.8" fill="#dfe76b"/>
<rect x="716.07" y="435" width="7.99" height="7.8" fill="#fede58"/>
<rect x="734.02" y="435" width="7.99" height="3.6" fill="#026302"/>
<rect x="742.01" y="435" width="7.99" height="3" fill="#4a8b24"/>
<rect x="750" y="435" width="7.99" height="4" fill="#97bf48"/>
<rect x="758" y="435" width="7.99" height="3" fill="#dfe76b"/>
<rect x="765.99" y="435" width="7.99" height="1.7" fill="#fede58"/>
</g>
<path d="M438.5 359.4V381M436.2 359.4H440.8M436.2 381H440.8" stroke="rgba(60,60,60,0.62)" stroke-width="0.9" fill="none"/>
<path d="M446.49 448.5V456.3M444.19 448.5H448.79M444.19 456.3H448.79" stroke="rgba(60,60,60,0.62)" stroke-width="0.9" fill="none"/>
<path d="M454.48 497.4V530.6M452.18 497.4H456.78M452.18 530.6H456.78" stroke="rgba(60,60,60,0.62)" stroke-width="0.9" fill="none"/>
<path d="M462.47 416.4V420M460.17 416.4H464.77M460.17 420H464.77" stroke="rgba(60,60,60,0.62)" stroke-width="0.9" fill="none"/>
<path d="M470.46 427.3V431.7M468.16 427.3H472.76M468.16 431.7H472.76" stroke="rgba(60,60,60,0.62)" stroke-width="0.9" fill="none"/>
<path d="M488.42 435.7V441.3M486.12 435.7H490.72M486.12 441.3H490.72" stroke="rgba(60,60,60,0.62)" stroke-width="0.9" fill="none"/>
<path d="M496.41 461.2V472.4M494.11 461.2H498.71M494.11 472.4H498.71" stroke="rgba(60,60,60,0.62)" stroke-width="0.9" fill="none"/>
<path d="M504.4 443.6V468.8M502.1 443.6H506.7M502.1 468.8H506.7" stroke="rgba(60,60,60,0.62)" stroke-width="0.9" fill="none"/>
<path d="M538.34 320.7V341.9M536.04 320.7H540.64M536.04 341.9H540.64" stroke="rgba(60,60,60,0.62)" stroke-width="0.9" fill="none"/>
<path d="M546.33 336.8V348.4M544.03 336.8H548.63M544.03 348.4H548.63" stroke="rgba(60,60,60,0.62)" stroke-width="0.9" fill="none"/>
<path d="M554.32 347.5V363.5M552.02 347.5H556.62M552.02 363.5H556.62" stroke="rgba(60,60,60,0.62)" stroke-width="0.9" fill="none"/>
<path d="M562.31 346.3V356.5M560.01 346.3H564.61M560.01 356.5H564.61" stroke="rgba(60,60,60,0.62)" stroke-width="0.9" fill="none"/>
<path d="M570.3 314.6V331.6M568 314.6H572.6M568 331.6H572.6" stroke="rgba(60,60,60,0.62)" stroke-width="0.9" fill="none"/>
<path d="M588.26 361V375M585.96 361H590.56M585.96 375H590.56" stroke="rgba(60,60,60,0.62)" stroke-width="0.9" fill="none"/>
<path d="M596.25 380.3V390.3M593.95 380.3H598.55M593.95 390.3H598.55" stroke="rgba(60,60,60,0.62)" stroke-width="0.9" fill="none"/>
<path d="M604.24 374.5V392.5M601.94 374.5H606.54M601.94 392.5H606.54" stroke="rgba(60,60,60,0.62)" stroke-width="0.9" fill="none"/>
<path d="M612.23 360.6V369.6M609.93 360.6H614.53M609.93 369.6H614.53" stroke="rgba(60,60,60,0.62)" stroke-width="0.9" fill="none"/>
<path d="M620.22 339.1V345.7M617.92 339.1H622.52M617.92 345.7H622.52" stroke="rgba(60,60,60,0.62)" stroke-width="0.9" fill="none"/>
<path d="M638.18 404.5V405.5M635.88 404.5H640.48M635.88 405.5H640.48" stroke="rgba(60,60,60,0.62)" stroke-width="0.9" fill="none"/>
<path d="M646.17 406.4V414.4M643.87 406.4H648.47M643.87 414.4H648.47" stroke="rgba(60,60,60,0.62)" stroke-width="0.9" fill="none"/>
<path d="M654.16 401.2V416M651.86 401.2H656.46M651.86 416H656.46" stroke="rgba(60,60,60,0.62)" stroke-width="0.9" fill="none"/>
<path d="M662.15 374.3V392.3M659.85 374.3H664.45M659.85 392.3H664.45" stroke="rgba(60,60,60,0.62)" stroke-width="0.9" fill="none"/>
<path d="M670.14 394.4V414.4M667.84 394.4H672.44M667.84 414.4H672.44" stroke="rgba(60,60,60,0.62)" stroke-width="0.9" fill="none"/>
<path d="M688.1 439.8V443.8M685.8 439.8H690.4M685.8 443.8H690.4" stroke="rgba(60,60,60,0.62)" stroke-width="0.9" fill="none"/>
<path d="M696.09 445.5V449.5M693.79 445.5H698.39M693.79 449.5H698.39" stroke="rgba(60,60,60,0.62)" stroke-width="0.9" fill="none"/>
<path d="M704.08 444.2V448.2M701.78 444.2H706.38M701.78 448.2H706.38" stroke="rgba(60,60,60,0.62)" stroke-width="0.9" fill="none"/>
<path d="M712.07 439.8V443.8M709.77 439.8H714.37M709.77 443.8H714.37" stroke="rgba(60,60,60,0.62)" stroke-width="0.9" fill="none"/>
<path d="M720.06 441.3V444.3M717.76 441.3H722.36M717.76 444.3H722.36" stroke="rgba(60,60,60,0.62)" stroke-width="0.9" fill="none"/>
<path d="M738.02 437.1V440.1M735.72 437.1H740.32M735.72 440.1H740.32" stroke="rgba(60,60,60,0.62)" stroke-width="0.9" fill="none"/>
<path d="M746.01 437V439M743.71 437H748.31M743.71 439H748.31" stroke="rgba(60,60,60,0.62)" stroke-width="0.9" fill="none"/>
<path d="M754 436.8V441.2M751.7 436.8H756.3M751.7 441.2H756.3" stroke="rgba(60,60,60,0.62)" stroke-width="0.9" fill="none"/>
<path d="M761.99 435.5V440.5M759.69 435.5H764.29M759.69 440.5H764.29" stroke="rgba(60,60,60,0.62)" stroke-width="0.9" fill="none"/>
<path d="M769.98 435.7V437.7M767.68 435.7H772.28M767.68 437.7H772.28" stroke="rgba(60,60,60,0.62)" stroke-width="0.9" fill="none"/>
<path d="M429.6 435H779.6" stroke="#2a2a2a" stroke-width="1.2"/>
<path d="M429.6 295V555" stroke="#3a3a3a" stroke-width="1.3" fill="none"/>
<path d="M428.95 555H779.6" stroke="#222" stroke-width="1.1" fill="none"/>
<text x="424.3" y="318.7" font-size="12.6" text-anchor="end" fill="#1a1a1a">0.6</text>
<text x="424.3" y="358.7" font-size="12.6" text-anchor="end" fill="#1a1a1a">0.4</text>
<text x="424.3" y="398.7" font-size="12.6" text-anchor="end" fill="#1a1a1a">0.2</text>
<text x="424.3" y="438.7" font-size="12.6" text-anchor="end" fill="#1a1a1a">0.0</text>
<text x="424.3" y="478.7" font-size="12.6" text-anchor="end" fill="#1a1a1a">-0.2</text>
<text x="424.3" y="518.7" font-size="12.6" text-anchor="end" fill="#1a1a1a">-0.4</text>
<text x="424.3" y="558.7" font-size="12.6" text-anchor="end" fill="#1a1a1a">-0.6</text>
<text x="454.78" y="569.7" font-size="12.6" text-anchor="middle" fill="#1a1a1a">6/30</text>
<text x="504.7" y="569.7" font-size="12.6" text-anchor="middle" fill="#1a1a1a">7/15</text>
<text x="554.62" y="569.7" font-size="12.6" text-anchor="middle" fill="#1a1a1a">8/2</text>
<text x="604.54" y="569.7" font-size="12.6" text-anchor="middle" fill="#1a1a1a">8/18</text>
<text x="654.46" y="569.7" font-size="12.6" text-anchor="middle" fill="#1a1a1a">8/31</text>
<text x="704.38" y="569.7" font-size="12.6" text-anchor="middle" fill="#1a1a1a">9/13</text>
<text x="754.3" y="569.7" font-size="12.6" text-anchor="middle" fill="#1a1a1a">10/6</text>
<path d="M429.6 315h4.5M429.6 355h4.5M429.6 395h4.5M429.6 435h4.5M429.6 475h4.5M429.6 515h4.5M429.6 555h4.5M454.48 555v-4.5M504.4 555v-4.5M554.32 555v-4.5M604.24 555v-4.5M654.16 555v-4.5M704.08 555v-4.5M754 555v-4.5" stroke="#3a3a3a" stroke-width="1.2" fill="none"/>
<text x="438.4" y="356.5" font-size="10" text-anchor="middle" fill="#1a1a1a">a</text>
<text x="445.7" y="468.2" font-size="10" text-anchor="middle" fill="#1a1a1a">b</text>
<text x="455" y="539" font-size="10" text-anchor="middle" fill="#1a1a1a">c</text>
<text x="463.1" y="410.8" font-size="10" text-anchor="middle" fill="#1a1a1a">b</text>
<text x="471.3" y="425.2" font-size="10" text-anchor="middle" fill="#1a1a1a">b</text>
<text x="488" y="452.4" font-size="10" text-anchor="middle" fill="#1a1a1a">a</text>
<text x="496.8" y="481.7" font-size="10" text-anchor="middle" fill="#1a1a1a">b</text>
<text x="505.7" y="477.9" font-size="10" text-anchor="middle" fill="#1a1a1a">b</text>
<text x="511.9" y="431.6" font-size="10" text-anchor="middle" fill="#1a1a1a">a</text>
<text x="520.9" y="426.7" font-size="10" text-anchor="middle" fill="#1a1a1a">a</text>
<text x="539" y="316.8" font-size="10" text-anchor="middle" fill="#1a1a1a">ab</text>
<text x="549" y="335.1" font-size="10" text-anchor="middle" fill="#1a1a1a">bc</text>
<text x="554.1" y="344.3" font-size="10" text-anchor="middle" fill="#1a1a1a">c</text>
<text x="562.3" y="342.7" font-size="10" text-anchor="middle" fill="#1a1a1a">c</text>
<text x="570.2" y="311.8" font-size="10" text-anchor="middle" fill="#1a1a1a">a</text>
<text x="588" y="358.9" font-size="10" text-anchor="middle" fill="#1a1a1a">b</text>
<text x="596.8" y="379.3" font-size="10" text-anchor="middle" fill="#1a1a1a">c</text>
<text x="604.5" y="370.3" font-size="10" text-anchor="middle" fill="#1a1a1a">c</text>
<text x="611.1" y="356.9" font-size="10" text-anchor="middle" fill="#1a1a1a">b</text>
<text x="621.1" y="335.9" font-size="10" text-anchor="middle" fill="#1a1a1a">a</text>
<text x="638.1" y="398.8" font-size="10" text-anchor="middle" fill="#1a1a1a">b</text>
<text x="646.6" y="403.4" font-size="10" text-anchor="middle" fill="#1a1a1a">b</text>
<text x="653.1" y="397.1" font-size="10" text-anchor="middle" fill="#1a1a1a">b</text>
<text x="660.9" y="369.3" font-size="10" text-anchor="middle" fill="#1a1a1a">a</text>
<text x="671.4" y="392.1" font-size="10" text-anchor="middle" fill="#1a1a1a">b</text>
<text x="687.6" y="452.7" font-size="10" text-anchor="middle" fill="#1a1a1a">a</text>
<text x="694.2" y="459.6" font-size="10" text-anchor="middle" fill="#1a1a1a">c</text>
<text x="706.9" y="460.7" font-size="10" text-anchor="middle" fill="#1a1a1a">bc</text>
<text x="712.8" y="451.7" font-size="10" text-anchor="middle" fill="#1a1a1a">a</text>
<text x="723.2" y="456.6" font-size="10" text-anchor="middle" fill="#1a1a1a">ab</text>
<text x="738.2" y="448.5" font-size="10" text-anchor="middle" fill="#1a1a1a">a</text>
<text x="745.4" y="448.3" font-size="10" text-anchor="middle" fill="#1a1a1a">a</text>
<text x="753.4" y="448.8" font-size="10" text-anchor="middle" fill="#1a1a1a">a</text>
<text x="762.6" y="448.3" font-size="10" text-anchor="middle" fill="#1a1a1a">a</text>
<text x="770.5" y="448.3" font-size="10" text-anchor="middle" fill="#1a1a1a">a</text>
<g stroke="#2a2a2a" stroke-width="0.8">
<rect x="45.9" y="689" width="7.99" height="18.4" fill="#026302"/>
<rect x="53.89" y="707.4" width="7.99" height="76" fill="#4a8b24"/>
<rect x="61.88" y="707.4" width="7.99" height="75.1" fill="#97bf48"/>
<rect x="69.88" y="707.4" width="7.99" height="8.3" fill="#dfe76b"/>
<rect x="77.86" y="707.4" width="7.99" height="71" fill="#fede58"/>
<rect x="95.82" y="707.4" width="7.99" height="16.2" fill="#026302"/>
<rect x="103.81" y="707.4" width="7.99" height="63.1" fill="#4a8b24"/>
<rect x="111.8" y="707.4" width="7.99" height="35.1" fill="#97bf48"/>
<rect x="119.79" y="707.4" width="7.99" height="4.7" fill="#dfe76b"/>
<rect x="127.78" y="707.4" width="7.99" height="43.8" fill="#fede58"/>
<rect x="145.75" y="635.5" width="7.99" height="71.9" fill="#026302"/>
<rect x="153.74" y="662.4" width="7.99" height="45" fill="#4a8b24"/>
<rect x="161.72" y="658.5" width="7.99" height="48.9" fill="#97bf48"/>
<rect x="169.72" y="627.4" width="7.99" height="80" fill="#dfe76b"/>
<rect x="177.71" y="651.2" width="7.99" height="56.2" fill="#fede58"/>
<rect x="195.66" y="660.2" width="7.99" height="47.2" fill="#026302"/>
<rect x="203.66" y="693.4" width="7.99" height="14" fill="#4a8b24"/>
<rect x="211.64" y="689.3" width="7.99" height="18.1" fill="#97bf48"/>
<rect x="219.63" y="665.2" width="7.99" height="42.2" fill="#dfe76b"/>
<rect x="227.62" y="690.3" width="7.99" height="17.1" fill="#fede58"/>
<rect x="245.59" y="680.2" width="7.99" height="27.2" fill="#026302"/>
<rect x="253.58" y="705.2" width="7.99" height="2.2" fill="#4a8b24"/>
<rect x="261.56" y="695.2" width="7.99" height="12.2" fill="#97bf48"/>
<rect x="269.56" y="687.2" width="7.99" height="20.2" fill="#dfe76b"/>
<rect x="277.55" y="692" width="7.99" height="15.4" fill="#fede58"/>
<rect x="295.5" y="707.4" width="7.99" height="4.4" fill="#026302"/>
<rect x="303.5" y="707.4" width="7.99" height="18.8" fill="#4a8b24"/>
<rect x="311.49" y="707.4" width="7.99" height="17.1" fill="#97bf48"/>
<rect x="319.48" y="705.2" width="7.99" height="2.2" fill="#dfe76b"/>
<rect x="327.46" y="707.4" width="7.99" height="16" fill="#fede58"/>
<rect x="345.42" y="703.1" width="7.99" height="4.3" fill="#026302"/>
<rect x="353.41" y="707.4" width="7.99" height="16" fill="#4a8b24"/>
<rect x="361.4" y="707.4" width="7.99" height="10.6" fill="#97bf48"/>
<rect x="377.38" y="707.4" width="7.99" height="10.6" fill="#fede58"/>
</g>
<path d="M49.9 683.2V694.8M47.6 683.2H52.2M47.6 694.8H52.2" stroke="rgba(60,60,60,0.62)" stroke-width="0.9" fill="none"/>
<path d="M57.89 753.4V813.4M55.59 753.4H60.19M55.59 813.4H60.19" stroke="rgba(0,0,0,0.24)" stroke-width="1.3" fill="none"/>
<path d="M65.88 732.2V832.8M63.58 732.2H68.18M63.58 832.8H68.18" stroke="rgba(0,0,0,0.24)" stroke-width="1.3" fill="none"/>
<path d="M73.87 704.5V726.9M71.57 704.5H76.17M71.57 726.9H76.17" stroke="rgba(60,60,60,0.62)" stroke-width="0.9" fill="none"/>
<path d="M81.86 774.9V781.9M79.56 774.9H84.16M79.56 781.9H84.16" stroke="rgba(60,60,60,0.62)" stroke-width="0.9" fill="none"/>
<path d="M99.82 720V727.2M97.52 720H102.12M97.52 727.2H102.12" stroke="rgba(60,60,60,0.62)" stroke-width="0.9" fill="none"/>
<path d="M107.81 766V775M105.51 766H110.11M105.51 775H110.11" stroke="rgba(60,60,60,0.62)" stroke-width="0.9" fill="none"/>
<path d="M115.8 735.1V749.9M113.5 735.1H118.1M113.5 749.9H118.1" stroke="rgba(60,60,60,0.62)" stroke-width="0.9" fill="none"/>
<path d="M123.79 710.6V713.6M121.49 710.6H126.09M121.49 713.6H126.09" stroke="rgba(60,60,60,0.62)" stroke-width="0.9" fill="none"/>
<path d="M131.78 744.2V758.2M129.48 744.2H134.08M129.48 758.2H134.08" stroke="rgba(60,60,60,0.62)" stroke-width="0.9" fill="none"/>
<path d="M149.74 628.2V642.8M147.44 628.2H152.04M147.44 642.8H152.04" stroke="rgba(60,60,60,0.62)" stroke-width="0.9" fill="none"/>
<path d="M157.73 655.2V669.6M155.43 655.2H160.03M155.43 669.6H160.03" stroke="rgba(60,60,60,0.62)" stroke-width="0.9" fill="none"/>
<path d="M165.72 656.5V660.5M163.42 656.5H168.02M163.42 660.5H168.02" stroke="rgba(60,60,60,0.62)" stroke-width="0.9" fill="none"/>
<path d="M173.71 620V634.8M171.41 620H176.01M171.41 634.8H176.01" stroke="rgba(60,60,60,0.62)" stroke-width="0.9" fill="none"/>
<path d="M181.7 648.6V653.8M179.4 648.6H184M179.4 653.8H184" stroke="rgba(60,60,60,0.62)" stroke-width="0.9" fill="none"/>
<path d="M199.66 658.5V661.9M197.36 658.5H201.96M197.36 661.9H201.96" stroke="rgba(60,60,60,0.62)" stroke-width="0.9" fill="none"/>
<path d="M207.65 689.2V697.6M205.35 689.2H209.95M205.35 697.6H209.95" stroke="rgba(60,60,60,0.62)" stroke-width="0.9" fill="none"/>
<path d="M215.64 687.3V691.3M213.34 687.3H217.94M213.34 691.3H217.94" stroke="rgba(60,60,60,0.62)" stroke-width="0.9" fill="none"/>
<path d="M223.63 660.1V670.3M221.33 660.1H225.93M221.33 670.3H225.93" stroke="rgba(60,60,60,0.62)" stroke-width="0.9" fill="none"/>
<path d="M231.62 689V691.6M229.32 689H233.92M229.32 691.6H233.92" stroke="rgba(60,60,60,0.62)" stroke-width="0.9" fill="none"/>
<path d="M249.58 675.5V684.9M247.28 675.5H251.88M247.28 684.9H251.88" stroke="rgba(60,60,60,0.62)" stroke-width="0.9" fill="none"/>
<path d="M257.57 702.2V708.2M255.27 702.2H259.87M255.27 708.2H259.87" stroke="rgba(60,60,60,0.62)" stroke-width="0.9" fill="none"/>
<path d="M265.56 690.6V699.8M263.26 690.6H267.86M263.26 699.8H267.86" stroke="rgba(60,60,60,0.62)" stroke-width="0.9" fill="none"/>
<path d="M273.55 683.4V691M271.25 683.4H275.85M271.25 691H275.85" stroke="rgba(60,60,60,0.62)" stroke-width="0.9" fill="none"/>
<path d="M281.54 686.7V697.3M279.24 686.7H283.84M279.24 697.3H283.84" stroke="rgba(60,60,60,0.62)" stroke-width="0.9" fill="none"/>
<path d="M299.5 709.8V713.8M297.2 709.8H301.8M297.2 713.8H301.8" stroke="rgba(60,60,60,0.62)" stroke-width="0.9" fill="none"/>
<path d="M307.49 724.2V728.2M305.19 724.2H309.79M305.19 728.2H309.79" stroke="rgba(60,60,60,0.62)" stroke-width="0.9" fill="none"/>
<path d="M315.48 723V726M313.18 723H317.78M313.18 726H317.78" stroke="rgba(60,60,60,0.62)" stroke-width="0.9" fill="none"/>
<path d="M323.47 703.2V707.2M321.17 703.2H325.77M321.17 707.2H325.77" stroke="rgba(60,60,60,0.62)" stroke-width="0.9" fill="none"/>
<path d="M331.46 721.9V724.9M329.16 721.9H333.76M329.16 724.9H333.76" stroke="rgba(60,60,60,0.62)" stroke-width="0.9" fill="none"/>
<path d="M349.42 700.1V706.1M347.12 700.1H351.72M347.12 706.1H351.72" stroke="rgba(60,60,60,0.62)" stroke-width="0.9" fill="none"/>
<path d="M357.41 721.9V724.9M355.11 721.9H359.71M355.11 724.9H359.71" stroke="rgba(60,60,60,0.62)" stroke-width="0.9" fill="none"/>
<path d="M365.4 717V719M363.1 717H367.7M363.1 719H367.7" stroke="rgba(60,60,60,0.62)" stroke-width="0.9" fill="none"/>
<path d="M373.39 705.9V708.9M371.09 705.9H375.69M371.09 708.9H375.69" stroke="rgba(60,60,60,0.62)" stroke-width="0.9" fill="none"/>
<path d="M381.38 717V719M379.08 717H383.68M379.08 719H383.68" stroke="rgba(60,60,60,0.62)" stroke-width="0.9" fill="none"/>
<path d="M41 707.4H391" stroke="#2a2a2a" stroke-width="1.2"/>
<path d="M41 596V856.4" stroke="#3a3a3a" stroke-width="1.3" fill="none"/>
<path d="M40.35 856.4H391" stroke="#222" stroke-width="1.1" fill="none"/>
<text x="35.7" y="599.65" font-size="12.6" text-anchor="end" fill="#1a1a1a">1.5</text>
<text x="35.7" y="636.8" font-size="12.6" text-anchor="end" fill="#1a1a1a">1.0</text>
<text x="35.7" y="673.95" font-size="12.6" text-anchor="end" fill="#1a1a1a">0.5</text>
<text x="35.7" y="711.1" font-size="12.6" text-anchor="end" fill="#1a1a1a">0.0</text>
<text x="35.7" y="748.25" font-size="12.6" text-anchor="end" fill="#1a1a1a">-0.5</text>
<text x="35.7" y="785.4" font-size="12.6" text-anchor="end" fill="#1a1a1a">-1.0</text>
<text x="35.7" y="822.55" font-size="12.6" text-anchor="end" fill="#1a1a1a">-1.5</text>
<text x="35.7" y="859.7" font-size="12.6" text-anchor="end" fill="#1a1a1a">-2.0</text>
<text x="66.18" y="871.1" font-size="12.6" text-anchor="middle" fill="#1a1a1a">6/30</text>
<text x="116.1" y="871.1" font-size="12.6" text-anchor="middle" fill="#1a1a1a">7/15</text>
<text x="166.02" y="871.1" font-size="12.6" text-anchor="middle" fill="#1a1a1a">8/2</text>
<text x="215.94" y="871.1" font-size="12.6" text-anchor="middle" fill="#1a1a1a">8/18</text>
<text x="265.86" y="871.1" font-size="12.6" text-anchor="middle" fill="#1a1a1a">8/31</text>
<text x="315.78" y="871.1" font-size="12.6" text-anchor="middle" fill="#1a1a1a">9/13</text>
<text x="365.7" y="871.1" font-size="12.6" text-anchor="middle" fill="#1a1a1a">10/6</text>
<path d="M41 595.95h4.5M41 633.1h4.5M41 670.25h4.5M41 707.4h4.5M41 744.55h4.5M41 781.7h4.5M41 818.85h4.5M41 856h4.5M65.88 856.4v-4.5M115.8 856.4v-4.5M165.72 856.4v-4.5M215.64 856.4v-4.5M265.56 856.4v-4.5M315.48 856.4v-4.5M365.4 856.4v-4.5" stroke="#3a3a3a" stroke-width="1.2" fill="none"/>
<text x="50.6" y="675.2" font-size="10" text-anchor="middle" fill="#1a1a1a">a</text>
<text x="57.1" y="825.1" font-size="10" text-anchor="middle" fill="#1a1a1a">b</text>
<text x="66.4" y="844.3" font-size="10" text-anchor="middle" fill="#1a1a1a">b</text>
<text x="73.6" y="736.9" font-size="10" text-anchor="middle" fill="#1a1a1a">a</text>
<text x="80.9" y="795.1" font-size="10" text-anchor="middle" fill="#1a1a1a">b</text>
<text x="98.4" y="738.8" font-size="10" text-anchor="middle" fill="#1a1a1a">a</text>
<text x="107.6" y="786" font-size="10" text-anchor="middle" fill="#1a1a1a">c</text>
<text x="115.7" y="761.1" font-size="10" text-anchor="middle" fill="#1a1a1a">b</text>
<text x="123.2" y="724.4" font-size="10" text-anchor="middle" fill="#1a1a1a">a</text>
<text x="131.8" y="769.2" font-size="10" text-anchor="middle" fill="#1a1a1a">b</text>
<text x="149.6" y="622.7" font-size="10" text-anchor="middle" fill="#1a1a1a">a</text>
<text x="157.1" y="649.6" font-size="10" text-anchor="middle" fill="#1a1a1a">c</text>
<text x="162.5" y="643.9" font-size="10" text-anchor="middle" fill="#1a1a1a">bc</text>
<text x="173.3" y="615" font-size="10" text-anchor="middle" fill="#1a1a1a">a</text>
<text x="182.7" y="642" font-size="10" text-anchor="middle" fill="#1a1a1a">b</text>
<text x="198.8" y="653.4" font-size="10" text-anchor="middle" fill="#1a1a1a">a</text>
<text x="207" y="684.8" font-size="10" text-anchor="middle" fill="#1a1a1a">b</text>
<text x="214.7" y="682.7" font-size="10" text-anchor="middle" fill="#1a1a1a">b</text>
<text x="223.2" y="656.3" font-size="10" text-anchor="middle" fill="#1a1a1a">a</text>
<text x="232" y="683.7" font-size="10" text-anchor="middle" fill="#1a1a1a">b</text>
<text x="249.2" y="670.7" font-size="10" text-anchor="middle" fill="#1a1a1a">a</text>
<text x="256.9" y="698.2" font-size="10" text-anchor="middle" fill="#1a1a1a">c</text>
<text x="265" y="686.2" font-size="10" text-anchor="middle" fill="#1a1a1a">b</text>
<text x="272.3" y="679.2" font-size="10" text-anchor="middle" fill="#1a1a1a">a</text>
<text x="281.9" y="683.7" font-size="10" text-anchor="middle" fill="#1a1a1a">b</text>
<text x="298.5" y="725.5" font-size="10" text-anchor="middle" fill="#1a1a1a">b</text>
<text x="306.7" y="738.3" font-size="10" text-anchor="middle" fill="#1a1a1a">c</text>
<text x="314.9" y="736.7" font-size="10" text-anchor="middle" fill="#1a1a1a">c</text>
<text x="322.1" y="699.3" font-size="10" text-anchor="middle" fill="#1a1a1a">a</text>
<text x="330.8" y="734.7" font-size="10" text-anchor="middle" fill="#1a1a1a">c</text>
<text x="348.8" y="694.9" font-size="10" text-anchor="middle" fill="#1a1a1a">a</text>
<text x="357.2" y="734.8" font-size="10" text-anchor="middle" fill="#1a1a1a">d</text>
<text x="365.4" y="729.9" font-size="10" text-anchor="middle" fill="#1a1a1a">c</text>
<text x="373.9" y="704" font-size="10" text-anchor="middle" fill="#1a1a1a">b</text>
<text x="380.8" y="729" font-size="10" text-anchor="middle" fill="#1a1a1a">c</text>
<g stroke="#2a2a2a" stroke-width="0.8">
<rect x="434.5" y="689.3" width="7.99" height="18.1" fill="#026302"/>
<rect x="442.5" y="707.4" width="7.99" height="56.6" fill="#4a8b24"/>
<rect x="450.49" y="707.4" width="7.99" height="105.5" fill="#97bf48"/>
<rect x="458.48" y="707.4" width="7.99" height="65" fill="#dfe76b"/>
<rect x="466.46" y="707.4" width="7.99" height="68" fill="#fede58"/>
<rect x="484.43" y="707.4" width="7.99" height="5" fill="#026302"/>
<rect x="492.42" y="707.4" width="7.99" height="44.1" fill="#4a8b24"/>
<rect x="500.41" y="707.4" width="7.99" height="59.6" fill="#97bf48"/>
<rect x="508.39" y="707.4" width="7.99" height="19.1" fill="#dfe76b"/>
<rect x="516.38" y="707.4" width="7.99" height="33.5" fill="#fede58"/>
<rect x="534.35" y="632.5" width="7.99" height="74.9" fill="#026302"/>
<rect x="542.34" y="650.4" width="7.99" height="57" fill="#4a8b24"/>
<rect x="550.33" y="672.5" width="7.99" height="34.9" fill="#97bf48"/>
<rect x="558.32" y="643.1" width="7.99" height="64.3" fill="#dfe76b"/>
<rect x="566.31" y="634.4" width="7.99" height="73" fill="#fede58"/>
<rect x="584.26" y="669.3" width="7.99" height="38.1" fill="#026302"/>
<rect x="592.25" y="679.3" width="7.99" height="28.1" fill="#4a8b24"/>
<rect x="600.25" y="689.2" width="7.99" height="18.2" fill="#97bf48"/>
<rect x="608.24" y="665.5" width="7.99" height="41.9" fill="#dfe76b"/>
<rect x="616.23" y="656.2" width="7.99" height="51.2" fill="#fede58"/>
<rect x="634.19" y="684.7" width="7.99" height="22.7" fill="#026302"/>
<rect x="642.18" y="695.5" width="7.99" height="11.9" fill="#4a8b24"/>
<rect x="650.17" y="705.7" width="7.99" height="1.7" fill="#97bf48"/>
<rect x="658.16" y="675.5" width="7.99" height="31.9" fill="#dfe76b"/>
<rect x="666.15" y="686.1" width="7.99" height="21.3" fill="#fede58"/>
<rect x="684.11" y="707.4" width="7.99" height="9.1" fill="#026302"/>
<rect x="692.1" y="707.4" width="7.99" height="14.3" fill="#4a8b24"/>
<rect x="700.09" y="707.4" width="7.99" height="22.9" fill="#97bf48"/>
<rect x="708.08" y="707.4" width="7.99" height="4.9" fill="#dfe76b"/>
<rect x="716.07" y="707.4" width="7.99" height="13.2" fill="#fede58"/>
<rect x="734.02" y="707.4" width="7.99" height="3.8" fill="#026302"/>
<rect x="742.01" y="707.4" width="7.99" height="8.9" fill="#4a8b24"/>
<rect x="750" y="707.4" width="7.99" height="15.7" fill="#97bf48"/>
<rect x="758" y="707.4" width="7.99" height="7.6" fill="#dfe76b"/>
<rect x="765.99" y="707.4" width="7.99" height="7.9" fill="#fede58"/>
</g>
<path d="M438.5 681.6V697M436.2 681.6H440.8M436.2 697H440.8" stroke="rgba(60,60,60,0.62)" stroke-width="0.9" fill="none"/>
<path d="M446.49 738.2V789.8M444.19 738.2H448.79M444.19 789.8H448.79" stroke="rgba(0,0,0,0.24)" stroke-width="1.3" fill="none"/>
<path d="M454.48 784.4V841.4M452.18 784.4H456.78M452.18 841.4H456.78" stroke="rgba(0,0,0,0.24)" stroke-width="1.3" fill="none"/>
<path d="M462.47 755.2V789.6M460.17 755.2H464.77M460.17 789.6H464.77" stroke="rgba(60,60,60,0.62)" stroke-width="0.9" fill="none"/>
<path d="M470.46 752.8V798M468.16 752.8H472.76M468.16 798H472.76" stroke="rgba(60,60,60,0.62)" stroke-width="0.9" fill="none"/>
<path d="M488.42 708.4V716.4M486.12 708.4H490.72M486.12 716.4H490.72" stroke="rgba(60,60,60,0.62)" stroke-width="0.9" fill="none"/>
<path d="M496.41 750.5V752.5M494.11 750.5H498.71M494.11 752.5H498.71" stroke="rgba(60,60,60,0.62)" stroke-width="0.9" fill="none"/>
<path d="M504.4 750.3V783.7M502.1 750.3H506.7M502.1 783.7H506.7" stroke="rgba(60,60,60,0.62)" stroke-width="0.9" fill="none"/>
<path d="M512.39 719.9V733.1M510.09 719.9H514.69M510.09 733.1H514.69" stroke="rgba(60,60,60,0.62)" stroke-width="0.9" fill="none"/>
<path d="M520.38 734.2V747.6M518.08 734.2H522.68M518.08 747.6H522.68" stroke="rgba(60,60,60,0.62)" stroke-width="0.9" fill="none"/>
<path d="M538.34 627.3V637.7M536.04 627.3H540.64M536.04 637.7H540.64" stroke="rgba(60,60,60,0.62)" stroke-width="0.9" fill="none"/>
<path d="M546.33 648.4V652.4M544.03 648.4H548.63M544.03 652.4H548.63" stroke="rgba(60,60,60,0.62)" stroke-width="0.9" fill="none"/>
<path d="M554.32 663.7V681.3M552.02 663.7H556.62M552.02 681.3H556.62" stroke="rgba(60,60,60,0.62)" stroke-width="0.9" fill="none"/>
<path d="M562.31 631.3V654.9M560.01 631.3H564.61M560.01 654.9H564.61" stroke="rgba(60,60,60,0.62)" stroke-width="0.9" fill="none"/>
<path d="M570.3 629.8V639M568 629.8H572.6M568 639H572.6" stroke="rgba(60,60,60,0.62)" stroke-width="0.9" fill="none"/>
<path d="M588.26 667.3V671.3M585.96 667.3H590.56M585.96 671.3H590.56" stroke="rgba(60,60,60,0.62)" stroke-width="0.9" fill="none"/>
<path d="M596.25 676.5V682.1M593.95 676.5H598.55M593.95 682.1H598.55" stroke="rgba(60,60,60,0.62)" stroke-width="0.9" fill="none"/>
<path d="M604.24 678.8V699.6M601.94 678.8H606.54M601.94 699.6H606.54" stroke="rgba(60,60,60,0.62)" stroke-width="0.9" fill="none"/>
<path d="M612.23 660.4V670.6M609.93 660.4H614.53M609.93 670.6H614.53" stroke="rgba(60,60,60,0.62)" stroke-width="0.9" fill="none"/>
<path d="M620.22 654.1V658.3M617.92 654.1H622.52M617.92 658.3H622.52" stroke="rgba(60,60,60,0.62)" stroke-width="0.9" fill="none"/>
<path d="M638.18 683.7V685.7M635.88 683.7H640.48M635.88 685.7H640.48" stroke="rgba(60,60,60,0.62)" stroke-width="0.9" fill="none"/>
<path d="M646.17 695V696M643.87 695H648.47M643.87 696H648.47" stroke="rgba(60,60,60,0.62)" stroke-width="0.9" fill="none"/>
<path d="M654.16 704.2V707.2M651.86 704.2H656.46M651.86 707.2H656.46" stroke="rgba(60,60,60,0.62)" stroke-width="0.9" fill="none"/>
<path d="M662.15 672.5V678.5M659.85 672.5H664.45M659.85 678.5H664.45" stroke="rgba(60,60,60,0.62)" stroke-width="0.9" fill="none"/>
<path d="M670.14 682.3V689.9M667.84 682.3H672.44M667.84 689.9H672.44" stroke="rgba(60,60,60,0.62)" stroke-width="0.9" fill="none"/>
<path d="M688.1 715.5V717.5M685.8 715.5H690.4M685.8 717.5H690.4" stroke="rgba(60,60,60,0.62)" stroke-width="0.9" fill="none"/>
<path d="M696.09 720V723.4M693.79 720H698.39M693.79 723.4H698.39" stroke="rgba(60,60,60,0.62)" stroke-width="0.9" fill="none"/>
<path d="M704.08 725.7V734.9M701.78 725.7H706.38M701.78 734.9H706.38" stroke="rgba(60,60,60,0.62)" stroke-width="0.9" fill="none"/>
<path d="M712.07 709.3V715.3M709.77 709.3H714.37M709.77 715.3H714.37" stroke="rgba(60,60,60,0.62)" stroke-width="0.9" fill="none"/>
<path d="M720.06 718.3V722.9M717.76 718.3H722.36M717.76 722.9H722.36" stroke="rgba(60,60,60,0.62)" stroke-width="0.9" fill="none"/>
<path d="M738.02 710.2V712.2M735.72 710.2H740.32M735.72 712.2H740.32" stroke="rgba(60,60,60,0.62)" stroke-width="0.9" fill="none"/>
<path d="M746.01 714.8V717.8M743.71 714.8H748.31M743.71 717.8H748.31" stroke="rgba(60,60,60,0.62)" stroke-width="0.9" fill="none"/>
<path d="M754 719.1V727.1M751.7 719.1H756.3M751.7 727.1H756.3" stroke="rgba(60,60,60,0.62)" stroke-width="0.9" fill="none"/>
<path d="M761.99 712.5V717.5M759.69 712.5H764.29M759.69 717.5H764.29" stroke="rgba(60,60,60,0.62)" stroke-width="0.9" fill="none"/>
<path d="M769.98 713.8V716.8M767.68 713.8H772.28M767.68 716.8H772.28" stroke="rgba(60,60,60,0.62)" stroke-width="0.9" fill="none"/>
<path d="M429.6 707.4H779.6" stroke="#2a2a2a" stroke-width="1.2"/>
<path d="M429.6 596V856.4" stroke="#3a3a3a" stroke-width="1.3" fill="none"/>
<path d="M428.95 856.4H779.6" stroke="#222" stroke-width="1.1" fill="none"/>
<text x="424.3" y="599.65" font-size="12.6" text-anchor="end" fill="#1a1a1a">1.5</text>
<text x="424.3" y="636.8" font-size="12.6" text-anchor="end" fill="#1a1a1a">1.0</text>
<text x="424.3" y="673.95" font-size="12.6" text-anchor="end" fill="#1a1a1a">0.5</text>
<text x="424.3" y="711.1" font-size="12.6" text-anchor="end" fill="#1a1a1a">0.0</text>
<text x="424.3" y="748.25" font-size="12.6" text-anchor="end" fill="#1a1a1a">-0.5</text>
<text x="424.3" y="785.4" font-size="12.6" text-anchor="end" fill="#1a1a1a">-1.0</text>
<text x="424.3" y="822.55" font-size="12.6" text-anchor="end" fill="#1a1a1a">-1.5</text>
<text x="424.3" y="859.7" font-size="12.6" text-anchor="end" fill="#1a1a1a">-2.0</text>
<text x="454.78" y="871.1" font-size="12.6" text-anchor="middle" fill="#1a1a1a">6/30</text>
<text x="504.7" y="871.1" font-size="12.6" text-anchor="middle" fill="#1a1a1a">7/15</text>
<text x="554.62" y="871.1" font-size="12.6" text-anchor="middle" fill="#1a1a1a">8/2</text>
<text x="604.54" y="871.1" font-size="12.6" text-anchor="middle" fill="#1a1a1a">8/18</text>
<text x="654.46" y="871.1" font-size="12.6" text-anchor="middle" fill="#1a1a1a">8/31</text>
<text x="704.38" y="871.1" font-size="12.6" text-anchor="middle" fill="#1a1a1a">9/13</text>
<text x="754.3" y="871.1" font-size="12.6" text-anchor="middle" fill="#1a1a1a">10/6</text>
<path d="M429.6 595.95h4.5M429.6 633.1h4.5M429.6 670.25h4.5M429.6 707.4h4.5M429.6 744.55h4.5M429.6 781.7h4.5M429.6 818.85h4.5M429.6 856h4.5M454.48 856.4v-4.5M504.4 856.4v-4.5M554.32 856.4v-4.5M604.24 856.4v-4.5M654.16 856.4v-4.5M704.08 856.4v-4.5M754 856.4v-4.5" stroke="#3a3a3a" stroke-width="1.2" fill="none"/>
<text x="439.2" y="677.7" font-size="10" text-anchor="middle" fill="#1a1a1a">a</text>
<text x="445.9" y="803.5" font-size="10" text-anchor="middle" fill="#1a1a1a">b</text>
<text x="455.4" y="848.2" font-size="10" text-anchor="middle" fill="#1a1a1a">c</text>
<text x="464" y="801.4" font-size="10" text-anchor="middle" fill="#1a1a1a">b</text>
<text x="472.9" y="808.9" font-size="10" text-anchor="middle" fill="#1a1a1a">bc</text>
<text x="487.8" y="724.6" font-size="10" text-anchor="middle" fill="#1a1a1a">a</text>
<text x="495.7" y="760.5" font-size="10" text-anchor="middle" fill="#1a1a1a">c</text>
<text x="505.8" y="794.4" font-size="10" text-anchor="middle" fill="#1a1a1a">d</text>
<text x="512.5" y="744.3" font-size="10" text-anchor="middle" fill="#1a1a1a">ab</text>
<text x="521.1" y="760.3" font-size="10" text-anchor="middle" fill="#1a1a1a">bc</text>
<text x="538.7" y="621.5" font-size="10" text-anchor="middle" fill="#1a1a1a">a</text>
<text x="548" y="643.6" font-size="10" text-anchor="middle" fill="#1a1a1a">b</text>
<text x="554.1" y="659.8" font-size="10" text-anchor="middle" fill="#1a1a1a">c</text>
<text x="562.3" y="626.9" font-size="10" text-anchor="middle" fill="#1a1a1a">ab</text>
<text x="571.3" y="628" font-size="10" text-anchor="middle" fill="#1a1a1a">a</text>
<text x="588.8" y="664.1" font-size="10" text-anchor="middle" fill="#1a1a1a">b</text>
<text x="597.4" y="672.6" font-size="10" text-anchor="middle" fill="#1a1a1a">c</text>
<text x="603.8" y="675" font-size="10" text-anchor="middle" fill="#1a1a1a">d</text>
<text x="610.2" y="657.3" font-size="10" text-anchor="middle" fill="#1a1a1a">ab</text>
<text x="620.9" y="651.2" font-size="10" text-anchor="middle" fill="#1a1a1a">a</text>
<text x="638.7" y="682.7" font-size="10" text-anchor="middle" fill="#1a1a1a">ab</text>
<text x="646.4" y="691.8" font-size="10" text-anchor="middle" fill="#1a1a1a">c</text>
<text x="654.3" y="702.5" font-size="10" text-anchor="middle" fill="#1a1a1a">d</text>
<text x="662.3" y="669.2" font-size="10" text-anchor="middle" fill="#1a1a1a">a</text>
<text x="670.9" y="678.6" font-size="10" text-anchor="middle" fill="#1a1a1a">b</text>
<text x="687.5" y="728.1" font-size="10" text-anchor="middle" fill="#1a1a1a">ab</text>
<text x="695.7" y="734" font-size="10" text-anchor="middle" fill="#1a1a1a">b</text>
<text x="704.6" y="743.2" font-size="10" text-anchor="middle" fill="#1a1a1a">c</text>
<text x="712.4" y="723.4" font-size="10" text-anchor="middle" fill="#1a1a1a">a</text>
<text x="721.8" y="733.3" font-size="10" text-anchor="middle" fill="#1a1a1a">b</text>
<text x="737.7" y="720" font-size="10" text-anchor="middle" fill="#1a1a1a">a</text>
<text x="746.9" y="729.9" font-size="10" text-anchor="middle" fill="#1a1a1a">b</text>
<text x="754.3" y="736.6" font-size="10" text-anchor="middle" fill="#1a1a1a">c</text>
<text x="762.4" y="728" font-size="10" text-anchor="middle" fill="#1a1a1a">ab</text>
<text x="772.5" y="726.5" font-size="10" text-anchor="middle" fill="#1a1a1a">ab</text>
<text x="352" y="16" font-size="12.6" fill="#1a1a1a">0-10cm</text>
<text x="724.2" y="16.6" font-size="12.6" fill="#1a1a1a">10-20cm</text>
<text x="350.8" y="311.7" font-size="12.6" fill="#1a1a1a">0-10cm</text>
<text x="724.6" y="311.8" font-size="12.6" fill="#1a1a1a">10-20cm</text>
<text x="348.4" y="613.8" font-size="12.6" fill="#1a1a1a">0-10cm</text>
<text x="724.5" y="616" font-size="12.6" fill="#1a1a1a">10-20cm</text>
<rect x="310.7" y="148.7" width="22" height="11" fill="#026302" stroke="#5a5a5a" stroke-width="1"/>
<text x="335.4" y="156.8" font-size="10" fill="#1a1a1a">CK</text>
<rect x="310.7" y="161.25" width="22" height="11" fill="#4a8b24" stroke="#5a5a5a" stroke-width="1"/>
<text x="335.4" y="169.35" font-size="10" fill="#1a1a1a">DF1</text>
<rect x="310.7" y="173.8" width="22" height="11" fill="#97bf48" stroke="#5a5a5a" stroke-width="1"/>
<text x="335.4" y="181.9" font-size="10" fill="#1a1a1a">DF2</text>
<rect x="310.7" y="186.35" width="22" height="11" fill="#dfe76b" stroke="#5a5a5a" stroke-width="1"/>
<text x="335.4" y="194.45" font-size="10" fill="#1a1a1a">DF3</text>
<rect x="310.7" y="198.9" width="22" height="11" fill="#fede58" stroke="#5a5a5a" stroke-width="1"/>
<text x="335.4" y="207" font-size="10" fill="#1a1a1a">DF4</text>
<rect x="698.7" y="148.7" width="22" height="11" fill="#026302" stroke="#5a5a5a" stroke-width="1"/>
<text x="723.4" y="156.8" font-size="10" fill="#1a1a1a">CK</text>
<rect x="698.7" y="161.25" width="22" height="11" fill="#4a8b24" stroke="#5a5a5a" stroke-width="1"/>
<text x="723.4" y="169.35" font-size="10" fill="#1a1a1a">DF1</text>
<rect x="698.7" y="173.8" width="22" height="11" fill="#97bf48" stroke="#5a5a5a" stroke-width="1"/>
<text x="723.4" y="181.9" font-size="10" fill="#1a1a1a">DF2</text>
<rect x="698.7" y="186.35" width="22" height="11" fill="#dfe76b" stroke="#5a5a5a" stroke-width="1"/>
<text x="723.4" y="194.45" font-size="10" fill="#1a1a1a">DF3</text>
<rect x="698.7" y="198.9" width="22" height="11" fill="#fede58" stroke="#5a5a5a" stroke-width="1"/>
<text x="723.4" y="207" font-size="10" fill="#1a1a1a">DF4</text>
<g transform="translate(11 181.1) rotate(-90)" fill="#1a1a1a"><text x="0" y="0" font-size="13">Ra</text><path d="M25 -9.6Q17.6 -4.15 25 1.3" stroke="#1a1a1a" stroke-width="0.9" fill="none"/><text x="26.8" y="0" font-size="13">gN·kg</text><text x="60.7" y="-5.2" font-size="9">-1</text><text x="69.2" y="0" font-size="13">·d</text><text x="79.8" y="-5.2" font-size="9">-1</text><path d="M89.5 -9.6Q96.7 -4.15 89.5 1.3" stroke="#1a1a1a" stroke-width="0.9" fill="none"/></g>
<g transform="translate(11 476.1) rotate(-90)" fill="#1a1a1a"><text x="0" y="0" font-size="13">Rn</text><path d="M25.73 -9.6Q18.33 -4.15 25.73 1.3" stroke="#1a1a1a" stroke-width="0.9" fill="none"/><text x="27.53" y="0" font-size="13">gN·kg</text><text x="61.43" y="-5.2" font-size="9">-1</text><text x="69.93" y="0" font-size="13">·d</text><text x="80.53" y="-5.2" font-size="9">-1</text><path d="M90.23 -9.6Q97.43 -4.15 90.23 1.3" stroke="#1a1a1a" stroke-width="0.9" fill="none"/></g>
<g transform="translate(11 779) rotate(-90)" fill="#1a1a1a"><text x="0" y="0" font-size="13">Rm</text><path d="M29.34 -9.6Q21.95 -4.15 29.34 1.3" stroke="#1a1a1a" stroke-width="0.9" fill="none"/><text x="31.14" y="0" font-size="13">gN·kg</text><text x="65.05" y="-5.2" font-size="9">-1</text><text x="73.55" y="0" font-size="13">·d</text><text x="84.14" y="-5.2" font-size="9">-1</text><path d="M93.84 -9.6Q101.04 -4.15 93.84 1.3" stroke="#1a1a1a" stroke-width="0.9" fill="none"/></g>
<text x="215.4" y="889.4" font-size="13.7" text-anchor="middle" fill="#1a1a1a">Time</text>
<text x="604.6" y="888.2" font-size="13.7" text-anchor="middle" fill="#1a1a1a">Time</text>
</svg></body></html>
